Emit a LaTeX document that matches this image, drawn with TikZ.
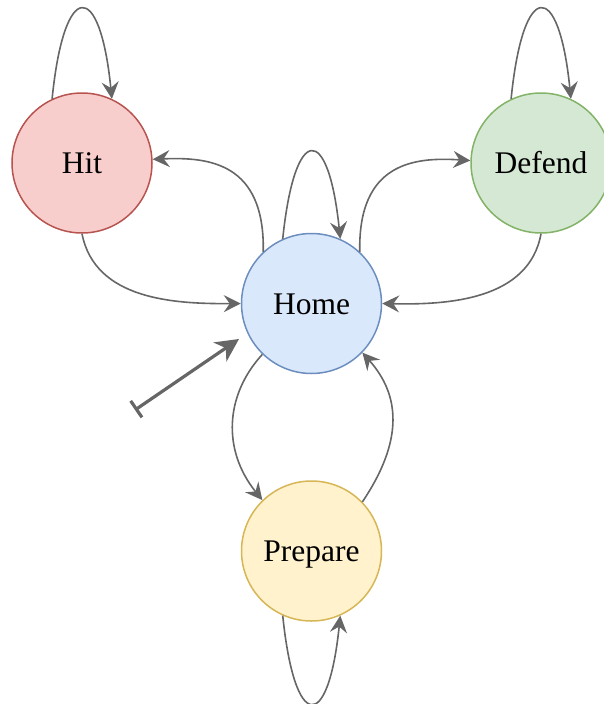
\documentclass[tikz,border=0pt]{standalone}
\usepackage{fontspec}
\setmainfont{Liberation Serif}
\usetikzlibrary{arrows.meta}
\definecolor{edgegray}{HTML}{666666}
\definecolor{hitfill}{HTML}{F8CECC}\definecolor{hitline}{HTML}{B85450}
\definecolor{homefill}{HTML}{DAE8FC}\definecolor{homeline}{HTML}{6C8EBF}
\definecolor{deffill}{HTML}{D5E8D4}\definecolor{defline}{HTML}{82B366}
\definecolor{prepfill}{HTML}{FFF2CC}\definecolor{prepline}{HTML}{D6B656}
\tikzset{
  state/.style={circle, minimum size=140pt, inner sep=0pt, line width=1.5pt,
    text height=21pt, text depth=0pt,
    font=\fontsize{31.5}{36}\selectfont},
  trans/.style={draw=edgegray, line width=1.6pt,
    -{Stealth[length=17pt, width=17pt, inset=6pt]}},
  initial/.style={draw=edgegray, line width=3.2pt,
    {Bar[width=20pt]}-{Stealth[length=23pt, width=23pt, inset=7pt]}}
}
\begin{document}
\begin{tikzpicture}[x=1pt, y=-1pt]
\useasboundingbox (0,0) rectangle (603,704);

% states
\node[state, fill=hitfill, draw=hitline]   (hit)     at (82,163)    {Hit};
\node[state, fill=homefill, draw=homeline] (home)    at (311.5,303.5) {Home};
\node[state, fill=deffill, draw=defline]   (defend)  at (541,163)   {Defend};
\node[state, fill=prepfill, draw=prepline] (prepare) at (311.5,551) {Prepare};

% self loops
\draw[trans] (hit.115) .. controls +(12,-120) and +(-12,-120) .. (hit.65);
\draw[trans] (home.114) .. controls +(12,-116) and +(-12,-116) .. (home.66);
\draw[trans] (defend.115) .. controls +(12,-120) and +(-12,-120) .. (defend.65);
\draw[trans] (prepare.-114) .. controls +(12,117) and +(-12,117) .. (prepare.-66);

% between Hit and Home
\draw[trans] (hit.south) .. controls (95,300) and (175,304) .. (home.west);
\draw[trans] (home.133) .. controls (265,162) and (208,157) .. (hit.3);

% between Home and Defend
\draw[trans] (home.47) .. controls (358,162) and (415,157) .. (defend.178);
\draw[trans] (defend.south) .. controls (529,300) and (448,305) .. (home.east);

% between Home and Prepare
\draw[trans] (home.-134) .. controls (225,395) and (222,450) .. (prepare.134);
\draw[trans] (prepare.44) .. controls (404,440) and (400,395) .. (home.-44);

% initial marker
\coordinate (init) at (135,410);
\coordinate (initend) at (239,339);
\draw[initial] (init) -- (initend);
\end{tikzpicture}
\end{document}
